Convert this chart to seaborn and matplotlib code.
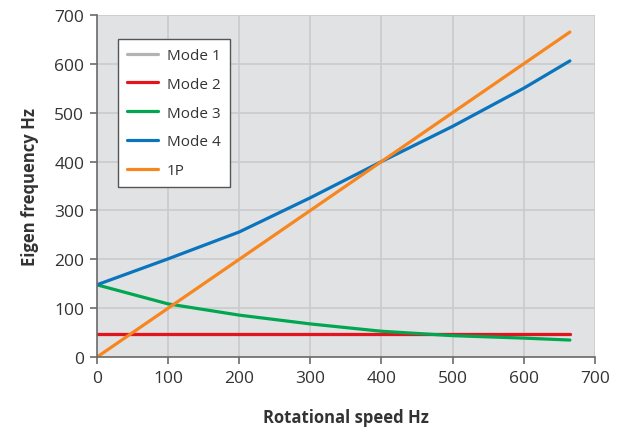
import seaborn as sns
import matplotlib.pyplot as plt
import pandas as pd

# rotational speed samples (Hz)
speed = [0, 100, 200, 300, 400, 500, 600, 665]

# eigen frequencies (Hz)
mode1 = [47, 47, 47, 47, 47, 47, 47, 47]
mode2 = [47, 47, 47, 47, 47, 47, 47, 47]
mode3 = [148, 109, 86, 68, 53, 44, 39, 35]
mode4 = [148, 201, 256, 326, 400, 472, 550, 606]
one_p = [0, 100, 200, 300, 400, 500, 600, 665]

df = pd.DataFrame({
    'speed': speed * 5,
    'freq': mode1 + mode2 + mode3 + mode4 + one_p,
    'series': ['Mode 1'] * 8 + ['Mode 2'] * 8 + ['Mode 3'] * 8 + ['Mode 4'] * 8 + ['1P'] * 8,
})

palette = {'Mode 1': '#b3b3b3', 'Mode 2': '#e3141e', 'Mode 3': '#00a650',
           'Mode 4': '#0a74bd', '1P': '#f7861f'}

sns.set_style('whitegrid')
plt.rcParams['font.family'] = ['Open Sans', 'DejaVu Sans']

fig = plt.figure(figsize=(6.17, 4.31), dpi=100)
ax = fig.add_axes([0.157, 0.169, 0.807, 0.794])
ax.set_facecolor('#e1e2e4')

sns.lineplot(data=df, x='speed', y='freq', hue='series', palette=palette,
             linewidth=2.3, ax=ax, legend=True)

ax.set_xlim(0, 700)
ax.set_ylim(0, 700)
ax.set_xticks(range(0, 701, 100))
ax.set_yticks(range(0, 701, 100))
ax.grid(True, color='#cbcbcd', linewidth=1.2)
for s in ['top', 'right']:
    ax.spines[s].set_visible(False)
for s in ['left', 'bottom']:
    ax.spines[s].set_color('#6b6b6b')
    ax.spines[s].set_linewidth(1.2)
ax.tick_params(axis='both', direction='out', length=5, width=1.2, color='#6b6b6b',
               labelsize=12.5, labelcolor='#333333', left=True, bottom=True, pad=4)

ax.set_xlabel('Rotational speed Hz', fontsize=12, fontweight='bold', color='#333333', labelpad=16)
ax.set_ylabel('Eigen frequency Hz', fontsize=12, fontweight='bold', color='#333333', labelpad=11)

leg = ax.legend(loc='upper left', bbox_to_anchor=(0.042, 0.93), fontsize=11,
                frameon=True, fancybox=False, handlelength=2.0, handletextpad=0.6,
                labelspacing=0.9, borderpad=0.6, borderaxespad=0)
leg.get_frame().set_edgecolor('#555555')
leg.get_frame().set_facecolor('white')
leg.get_frame().set_alpha(1)
leg.get_frame().set_linewidth(1)
for t in leg.get_texts():
    t.set_color('#333333')

fig.savefig('out.png', dpi=100)
